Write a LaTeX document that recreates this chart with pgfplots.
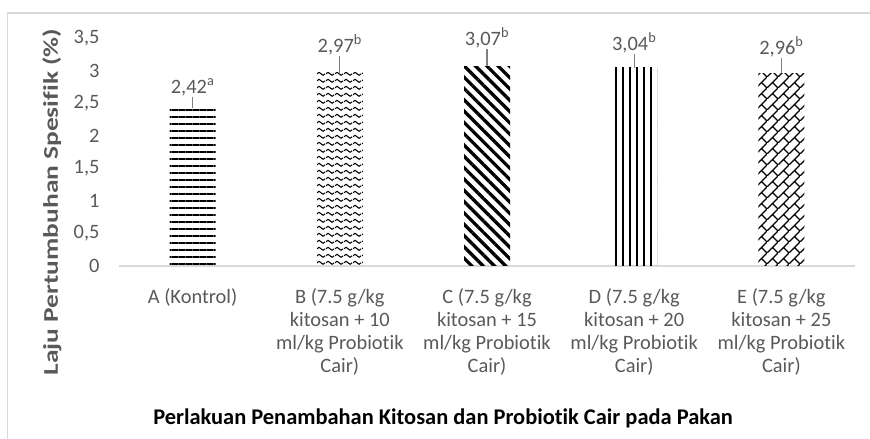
\documentclass[border=0pt]{standalone}
\usepackage{pgfplots}
\pgfplotsset{compat=1.18}
\usepackage{pgfplotstable}
\usepackage{graphicx}
\usepackage{fontspec}
\setmainfont{Carlito}[Ligatures=NoCommon]
\usetikzlibrary{patterns,patterns.meta}
\definecolor{txtgray}{HTML}{595959}
\definecolor{axgray}{HTML}{D9D9D9}
\definecolor{errgray}{HTML}{808080}

\pgfdeclarepatternformonly{excelwave}{\pgfqpoint{0pt}{0pt}}{\pgfqpoint{8.6pt}{6.7pt}}{\pgfqpoint{8.6pt}{6.7pt}}{%
  \pgfsetlinewidth{1.1pt}%
  \pgfpathmoveto{\pgfqpoint{0pt}{3.35pt}}%
  \pgfpathcurveto{\pgfqpoint{1.4pt}{5.4pt}}{\pgfqpoint{2.9pt}{5.4pt}}{\pgfqpoint{4.3pt}{3.35pt}}%
  \pgfpathcurveto{\pgfqpoint{5.7pt}{1.3pt}}{\pgfqpoint{7.2pt}{1.3pt}}{\pgfqpoint{8.6pt}{3.35pt}}%
  \pgfusepath{stroke}}

\pgfdeclarepatternformonly{excelshingle}{\pgfqpoint{0pt}{0pt}}{\pgfqpoint{11pt}{11pt}}{\pgfqpoint{11pt}{11pt}}{%
  \pgfsetlinewidth{1.2pt}%
  \pgfpathmoveto{\pgfqpoint{0pt}{0pt}}\pgfpathlineto{\pgfqpoint{11pt}{11pt}}%
  \pgfpathmoveto{\pgfqpoint{5.5pt}{5.5pt}}\pgfpathlineto{\pgfqpoint{11pt}{0pt}}%
  \pgfusepath{stroke}}

\pgfplotstableread{
x top lab
0 2.53 2,42\textsuperscript{a}
1 3.16 2,97\textsuperscript{b}
2 3.27 3,07\textsuperscript{b}
3 3.19 3,04\textsuperscript{b}
4 3.13 2,96\textsuperscript{b}
}\labtable

\begin{document}
\begin{tikzpicture}
\useasboundingbox (0,0) rectangle (870bp,439bp);
\draw[axgray, line width=1.5bp] (7.5bp,-5bp) -- (7.5bp,426bp) -- (880bp,426bp);
\begin{axis}[
  at={(119bp,173bp)}, anchor=south west,
  scale only axis, width=736bp, height=228bp,
  xmin=-0.5, xmax=4.5, ymin=0, ymax=3.5,
  ybar, bar width=46bp, bar shift=0pt,
  axis x line*=bottom, axis y line*=left,
  x axis line style={draw=axgray, line width=1.2bp, -},
  y axis line style={draw=none},
  major tick length=0pt,
  xtick={0,1,2,3,4},
  xticklabels={A (Kontrol),
    {B (7.5 g/kg\\kitosan + 10\\ml/kg Probiotik\\Cair)},
    {C (7.5 g/kg\\kitosan + 15\\ml/kg Probiotik\\Cair)},
    {D (7.5 g/kg\\kitosan + 20\\ml/kg Probiotik\\Cair)},
    {E (7.5 g/kg\\kitosan + 25\\ml/kg Probiotik\\Cair)}},
  xticklabel style={align=center, font=\fontsize{20.5}{23}\selectfont, text=txtgray, yshift=-19bp},
  ytick={0,0.5,1,1.5,2,2.5,3,3.5},
  yticklabel style={font=\fontsize{20.5}{23}\selectfont, text=txtgray, xshift=-16bp},
  /pgf/number format/use comma,
  /pgf/number format/fixed,
  /pgf/number format/assume math mode=true,
  clip=false,
]
\addplot[draw=none, pattern={Lines[angle=0,distance=7bp,line width=1.5bp]}, pattern color=black,
  error bars/.cd, y dir=plus, y explicit,
  error bar style={errgray, line width=1.2bp},
  error mark options={errgray, line width=1.2bp, mark size=4.3bp}]
  coordinates {(0,2.42) +- (0,0.11)};
\addplot[draw=none, pattern=excelwave, pattern color=black,
  error bars/.cd, y dir=plus, y explicit,
  error bar style={errgray, line width=1.2bp},
  error mark options={errgray, line width=1.2bp, mark size=4.3bp}]
  coordinates {(1,2.97) +- (0,0.19)};
\addplot[draw=none, pattern={Lines[angle=-45,distance=8bp,line width=3.3bp]}, pattern color=black,
  error bars/.cd, y dir=plus, y explicit,
  error bar style={errgray, line width=1.2bp},
  error mark options={errgray, line width=1.2bp, mark size=4.3bp}]
  coordinates {(2,3.07) +- (0,0.20)};
\addplot[draw=none, pattern={Lines[angle=90,distance=7bp,line width=1.6bp]}, pattern color=black,
  error bars/.cd, y dir=plus, y explicit,
  error bar style={errgray, line width=1.2bp},
  error mark options={errgray, line width=1.2bp, mark size=4.3bp}]
  coordinates {(3,3.04) +- (0,0.15)};
\addplot[draw=none, pattern=excelshingle, pattern color=black,
  error bars/.cd, y dir=plus, y explicit,
  error bar style={errgray, line width=1.2bp},
  error mark options={errgray, line width=1.2bp, mark size=4.3bp}]
  coordinates {(4,2.96) +- (0,0.17)};
\addplot[draw=none, fill=none, nodes near coords, point meta=explicit symbolic,
  nodes near coords style={anchor=south, inner sep=2bp, yshift=3bp, text=txtgray, font=\fontsize{20.5}{23}\selectfont}]
  table[x=x, y=top, meta=lab] {\labtable};
\end{axis}
\node[font=\bfseries\fontsize{22.5}{27}\selectfont] at (443bp,21bp) {Perlakuan Penambahan Kitosan dan Probiotik Cair pada Pakan};
\node[rotate=90, font=\bfseries\fontsize{21}{25}\selectfont, text=txtgray] at (52bp,237bp) {\scalebox{1.31}[1]{Laju Pertumbuhan Spesifik (\%)}};
\end{tikzpicture}
\end{document}
